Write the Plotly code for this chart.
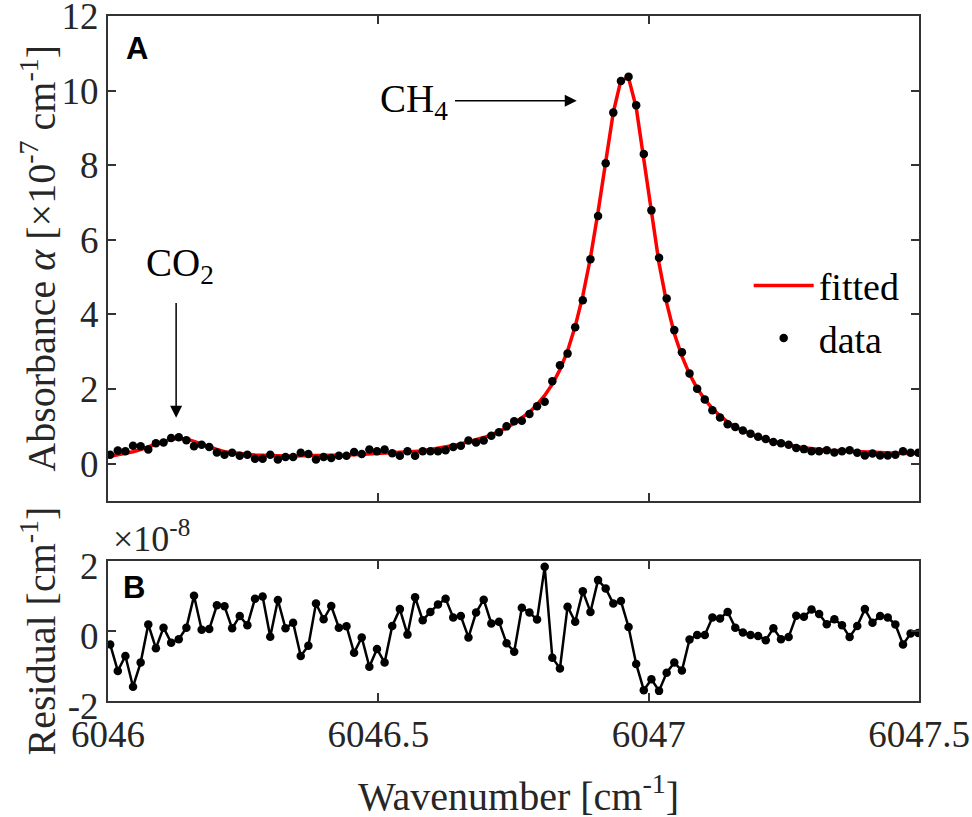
import plotly.graph_objects as go

# wavenumber grid [cm-1]
wavenumber = [
    6046.0040, 6046.0181, 6046.0322, 6046.0463, 6046.0604, 6046.0745, 6046.0886, 6046.1027, 6046.1168, 6046.1309,
    6046.1450, 6046.1591, 6046.1732, 6046.1873, 6046.2014, 6046.2155, 6046.2296, 6046.2437, 6046.2578, 6046.2719,
    6046.2860, 6046.3001, 6046.3142, 6046.3283, 6046.3424, 6046.3565, 6046.3706, 6046.3847, 6046.3988, 6046.4129,
    6046.4270, 6046.4411, 6046.4552, 6046.4693, 6046.4834, 6046.4975, 6046.5116, 6046.5257, 6046.5398, 6046.5539,
    6046.5680, 6046.5821, 6046.5962, 6046.6103, 6046.6244, 6046.6385, 6046.6526, 6046.6667, 6046.6808, 6046.6949,
    6046.7090, 6046.7231, 6046.7372, 6046.7513, 6046.7654, 6046.7795, 6046.7936, 6046.8077, 6046.8218, 6046.8359,
    6046.8500, 6046.8641, 6046.8782, 6046.8923, 6046.9064, 6046.9205, 6046.9346, 6046.9487, 6046.9628, 6046.9769,
    6046.9910, 6047.0051, 6047.0192, 6047.0333, 6047.0474, 6047.0615, 6047.0756, 6047.0897, 6047.1038, 6047.1179,
    6047.1320, 6047.1461, 6047.1602, 6047.1743, 6047.1884, 6047.2025, 6047.2166, 6047.2307, 6047.2448, 6047.2589,
    6047.2730, 6047.2871, 6047.3012, 6047.3153, 6047.3294, 6047.3435, 6047.3576, 6047.3717, 6047.3858, 6047.3999,
    6047.4140, 6047.4281, 6047.4422, 6047.4563, 6047.4704, 6047.4845, 6047.4986,
]

# measured absorbance [x1e-7 cm-1]
absorbance = [
    0.24, 0.35, 0.33, 0.48, 0.47, 0.38, 0.55, 0.57, 0.69, 0.71,
    0.63, 0.47, 0.51, 0.45, 0.30, 0.24, 0.29, 0.21, 0.24, 0.13,
    0.13, 0.24, 0.11, 0.18, 0.18, 0.29, 0.26, 0.11, 0.18, 0.15,
    0.21, 0.21, 0.31, 0.26, 0.38, 0.33, 0.38, 0.28, 0.21, 0.33,
    0.21, 0.33, 0.33, 0.33, 0.36, 0.45, 0.48, 0.62, 0.57, 0.62,
    0.75, 0.84, 1.00, 1.14, 1.15, 1.33, 1.54, 1.66, 2.21, 2.64,
    2.95, 3.66, 4.38, 5.48, 6.64, 8.05, 9.41, 10.26, 10.37, 9.61,
    8.30, 6.79, 5.52, 4.43, 3.58, 2.99, 2.42, 2.01, 1.72, 1.43,
    1.24, 1.06, 0.98, 0.89, 0.80, 0.72, 0.66, 0.58, 0.55, 0.51,
    0.42, 0.39, 0.33, 0.33, 0.36, 0.30, 0.33, 0.36, 0.29, 0.22,
    0.27, 0.22, 0.22, 0.24, 0.33, 0.29, 0.29,
]

# fitted profile [x1e-7 cm-1]
fitted = [
    0.20, 0.24, 0.27, 0.32, 0.38, 0.44, 0.52, 0.59, 0.65, 0.68,
    0.66, 0.60, 0.52, 0.45, 0.38, 0.32, 0.29, 0.26, 0.25, 0.23,
    0.22, 0.21, 0.20, 0.20, 0.20, 0.21, 0.21, 0.21, 0.21, 0.22,
    0.22, 0.23, 0.24, 0.25, 0.26, 0.27, 0.28, 0.28, 0.29, 0.30,
    0.31, 0.34, 0.38, 0.41, 0.45, 0.49, 0.53, 0.58, 0.63, 0.70,
    0.77, 0.86, 0.96, 1.08, 1.22, 1.38, 1.58, 1.83, 2.13, 2.52,
    3.02, 3.68, 4.50, 5.52, 6.75, 8.12, 9.42, 10.28, 10.34, 9.55,
    8.18, 6.68, 5.37, 4.31, 3.49, 2.88, 2.40, 2.02, 1.72, 1.48,
    1.28, 1.12, 0.99, 0.89, 0.79, 0.71, 0.64, 0.59, 0.54, 0.50,
    0.46, 0.43, 0.40, 0.38, 0.36, 0.35, 0.34, 0.33, 0.31, 0.30,
    0.29, 0.28, 0.27, 0.27, 0.27, 0.27, 0.28,
]

# residual [x1e-8 cm-1]
residual = [
    -0.38, -1.14, -0.71, -1.59, -0.90, 0.19, -0.49, 0.10, -0.33, -0.23,
    0.10, 1.01, 0.04, 0.06, 0.74, 0.71, 0.08, 0.43, 0.17, 0.93,
    0.99, -0.16, 0.89, 0.08, 0.24, -0.71, -0.42, 0.79, 0.34, 0.72,
    0.10, 0.14, -0.62, -0.18, -1.02, -0.51, -0.90, 0.15, 0.63, -0.10,
    0.97, 0.31, 0.55, 0.76, 0.93, 0.39, 0.43, -0.18, 0.53, 0.90,
    0.22, 0.27, -0.35, -0.59, 0.67, 0.53, 0.33, 1.84, -0.76, -1.07,
    0.70, 0.27, 1.14, 0.55, 1.46, 1.22, 0.79, 0.86, 0.12, -0.94,
    -1.69, -1.38, -1.71, -1.19, -0.90, -1.13, -0.24, -0.11, -0.11, 0.39,
    0.36, 0.55, 0.10, -0.04, -0.11, -0.14, -0.26, 0.08, -0.23, -0.17,
    0.44, 0.41, 0.62, 0.49, 0.20, 0.34, 0.17, -0.17, 0.15, 0.63,
    0.24, 0.43, 0.39, 0.19, -0.38, -0.07, -0.05,
]

x_ticks = [6046, 6046.5, 6047, 6047.5]
x_ticktext = ["6046", "6046.5", "6047", "6047.5"]
top_ticks = [0, 2, 4, 6, 8, 10, 12]
res_ticks = [-2, 0, 2]
res_ticktext = ["-2", "0", "2"]

SERIF = "Liberation Serif"
INK = "#262626"

fig = go.Figure()

fig.add_trace(go.Scatter(
    x=wavenumber, y=fitted, mode="lines", name="fitted",
    line=dict(color="#ff0000", width=3.5), xaxis="x", yaxis="y",
))
fig.add_trace(go.Scatter(
    x=wavenumber, y=absorbance, mode="markers", name="data",
    marker=dict(color="black", size=8.5), xaxis="x", yaxis="y",
))
fig.add_trace(go.Scatter(
    x=wavenumber, y=residual, mode="lines+markers", showlegend=False,
    line=dict(color="black", width=2.5), marker=dict(color="black", size=8.5),
    xaxis="x2", yaxis="y2",
))

axis_common = dict(
    showline=True, linecolor="#333333", linewidth=2, mirror="allticks",
    ticks="inside", ticklen=8, tickwidth=2, tickcolor="#333333",
    showgrid=False, zeroline=False, automargin=False, ticklabeloverflow="allow",
    tickfont=dict(family=SERIF, size=37, color=INK),
)

fig.update_layout(
    width=972, height=817,
    margin=dict(l=108, r=53, t=16, b=116),
    paper_bgcolor="white", plot_bgcolor="white",
    font=dict(family=SERIF, color=INK),
    xaxis=dict(domain=[0, 1], range=[6046, 6047.5], tickvals=x_ticks,
               showticklabels=False, anchor="y", **axis_common),
    yaxis=dict(domain=[0.292, 1], range=[-1, 12], tickvals=top_ticks,
               anchor="x", **axis_common),
    xaxis2=dict(domain=[0, 1], range=[6046, 6047.5], tickvals=x_ticks,
                ticktext=x_ticktext, anchor="y2", matches="x", **axis_common),
    yaxis2=dict(domain=[0, 0.204], range=[-2, 2], tickvals=res_ticks,
                ticktext=res_ticktext, anchor="x2", ticklabelshift=5, **axis_common),
    legend=dict(x=0.79, y=0.652, xanchor="left", yanchor="top",
                bgcolor="rgba(0,0,0,0)", font=dict(family=SERIF, size=38, color="black"),
                itemwidth=60, tracegroupgap=0),
    showlegend=True,
)

annotations = [
    # axis titles
    dict(text="Absorbance <i>α</i> [×10<sup>-7</sup> cm<sup>-1</sup>]", xref="paper", yref="paper",
         x=-0.086, y=0.646, textangle=-90, showarrow=False, xanchor="center", yanchor="middle",
         font=dict(family=SERIF, size=40, color=INK)),
    dict(text="Residual [cm<sup>-1</sup>]", xref="paper", yref="paper",
         x=-0.086, y=0.102, textangle=-90, showarrow=False, xanchor="center", yanchor="middle",
         font=dict(family=SERIF, size=40, color=INK)),
    dict(text="Wavenumber [cm<sup>-1</sup>]", xref="paper", yref="paper",
         x=0.506, y=-0.135, showarrow=False, xanchor="center", yanchor="middle",
         font=dict(family=SERIF, size=40, color=INK)),
    dict(text="×10<sup>-8</sup>", xref="paper", yref="paper",
         x=0.004, y=0.205, showarrow=False, xanchor="left", yanchor="bottom",
         font=dict(family=SERIF, size=36, color=INK)),
    # panel letters
    dict(text="<b>A</b>", xref="paper", yref="paper", x=0.036, y=0.953,
         showarrow=False, xanchor="center", yanchor="middle",
         font=dict(family="Liberation Sans", size=31, color="black")),
    dict(text="<b>B</b>", xref="paper", yref="paper", x=0.032, y=0.165,
         showarrow=False, xanchor="center", yanchor="middle",
         font=dict(family="Liberation Sans", size=31, color="black")),
    # species labels
    dict(text="CH<sub>4</sub>", xref="x", yref="y", x=6046.633, y=9.72,
         showarrow=False, xanchor="right", yanchor="middle",
         font=dict(family=SERIF, size=39, color="black")),
    dict(text="CO<sub>2</sub>", xref="x", yref="y", x=6046.133, y=5.3,
         showarrow=False, xanchor="center", yanchor="middle",
         font=dict(family=SERIF, size=39, color="black")),
    # arrows
    dict(text="", xref="x", yref="y", axref="x", ayref="y",
         x=6046.867, y=9.73, ax=6046.639, ay=9.73, showarrow=True,
         arrowhead=2, arrowsize=1.6, arrowwidth=1.5, arrowcolor="black"),
    dict(text="", xref="x", yref="y", axref="x", ayref="y",
         x=6046.126, y=1.23, ax=6046.126, ay=4.35, showarrow=True,
         arrowhead=2, arrowsize=1.6, arrowwidth=1.5, arrowcolor="black"),
]
fig.update_layout(annotations=annotations)

# drop the page's default body margin so the figure sits at the window corner
fig.write_html("out.html", config={"displayModeBar": False},
               post_script="document.body.style.margin='0';")
